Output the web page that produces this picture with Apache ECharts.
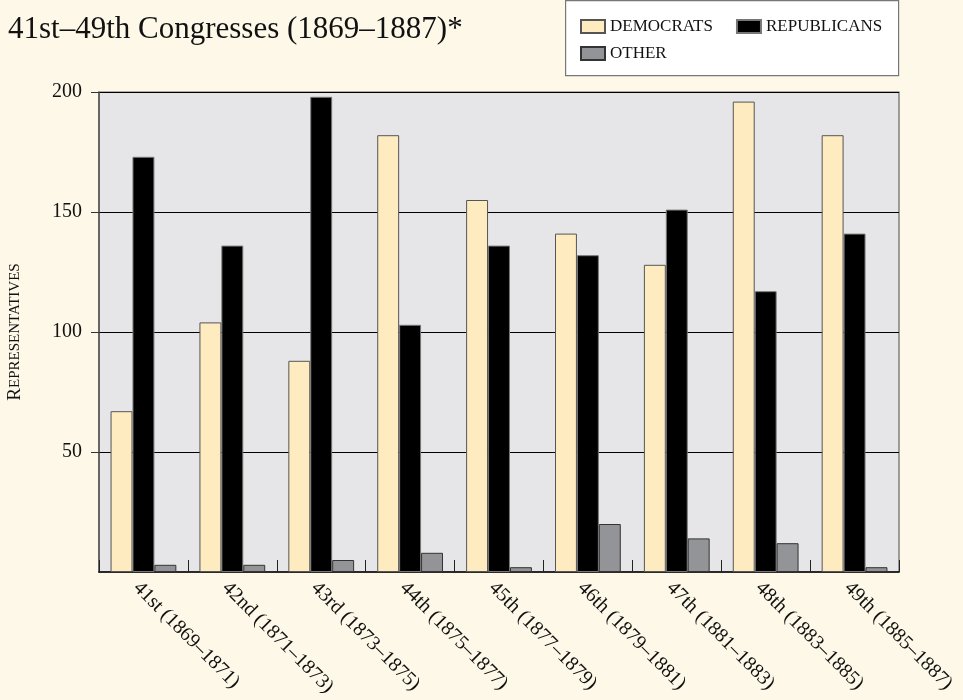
<!DOCTYPE html>
<html><head><meta charset="utf-8">
<script src="https://cdn.jsdelivr.net/npm/echarts@6/dist/echarts.min.js"></script>
<style>html,body{margin:0;padding:0;background:#fef8e8;}#c{width:963px;height:700px;}</style>
</head><body><div id="c"></div>
<script>
const categories = ['41st (1869–1871)','42nd (1871–1873)','43rd (1873–1875)','44th (1875–1877)','45th (1877–1879)','46th (1879–1881)','47th (1881–1883)','48th (1883–1885)','49th (1885–1887)'];
const democrats = [67,104,88,182,155,141,128,196,182];
const republicans = [173,136,198,103,136,132,151,117,141];
const other = [3,3,5,8,2,20,14,12,2];
const yTicks = [50,100,150,200];

const serif = '"Liberation Serif", "DejaVu Serif", serif';
const chart = echarts.init(document.getElementById('c'));
chart.setOption({
  backgroundColor: '#fef8e8',
  animation: false,
  textStyle: {fontFamily: serif},
  title: {text: '41st–49th Congresses (1869–1887)*', left: 3, top: 9,
    textStyle: {fontFamily: serif, fontWeight: 'normal', fontSize: 31, color: '#111'}},
  graphic: [{type: 'rect', left: 565, top: 0, shape: {width: 333, height: 75},
    style: {fill: '#ffffff', stroke: '#777', lineWidth: 1.2}, z: 0}],
  legend: [
    {data: ['Democrats','Republicans'], left: 575, top: 13, icon: 'rect', itemWidth: 24, itemHeight: 13, itemGap: 23,
     formatter: n => n.toUpperCase(), textStyle: {fontFamily: serif, fontSize: 17, color: '#111', padding: [2,0,0,0]}, z: 5},
    {data: ['Other'], left: 575, top: 40, icon: 'rect', itemWidth: 24, itemHeight: 13,
     formatter: n => n.toUpperCase(), textStyle: {fontFamily: serif, fontSize: 17, color: '#111', padding: [2,0,0,0]}, z: 5}
  ],
  grid: {left: 99, right: 64, top: 92, bottom: 128, outerBoundsMode: 'none', show: true, backgroundColor: '#e6e6e8', borderWidth: 1.2, borderColor: '#666'},
  xAxis: {type: 'category', data: categories, boundaryGap: true,
    axisLine: {lineStyle: {color: '#000', width: 1.5}},
    axisTick: {show: true, inside: true, length: 12, alignWithLabel: false, lineStyle: {color: '#222', width: 1}},
    axisLabel: {rotate: -45, fontSize: 20, color: '#111', margin: 6, align: 'left', verticalAlign: 'top', fontFamily: serif}},
  yAxis: {type: 'value', min: 0, max: 200, interval: 50,
    name: '{a|R}{b|EPRESENTATIVES}', nameLocation: 'middle', nameGap: 74, nameRotate: 90,
    nameTextStyle: {rich: {a: {fontSize: 19, fontFamily: serif, color: '#111'}, b: {fontSize: 15, fontFamily: serif, color: '#111'}}},
    axisLine: {show: true, lineStyle: {color: '#555', width: 1.5}},
    axisTick: {show: true, length: 8, customValues: yTicks, lineStyle: {color: '#333'}},
    axisLabel: {fontSize: 20, color: '#111', margin: 17, fontFamily: serif, customValues: yTicks},
    splitLine: {show: true, lineStyle: {color: '#000', width: 1}}},
  series: [
    {name: 'Democrats', type: 'bar', data: democrats, barGap: '0%', barCategoryGap: '26%',
     itemStyle: {color: '#feebbf', borderColor: '#555', borderWidth: 1}},
    {name: 'Republicans', type: 'bar', data: republicans,
     itemStyle: {color: '#000000', borderColor: '#777', borderWidth: 1}},
    {name: 'Other', type: 'bar', data: other,
     itemStyle: {color: '#939498', borderColor: '#333', borderWidth: 1}}
  ]
});
</script></body></html>
